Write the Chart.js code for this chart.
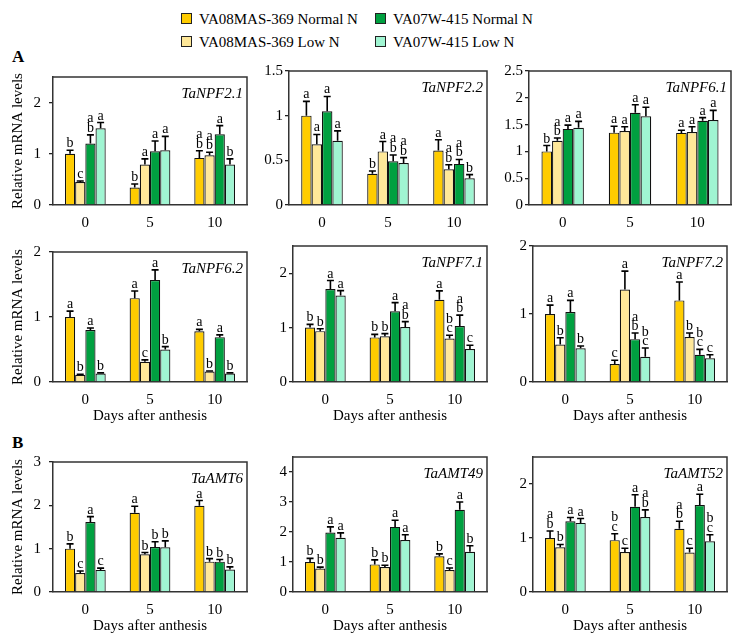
<!DOCTYPE html>
<html><head><meta charset="utf-8">
<script src="https://cdn.jsdelivr.net/npm/chart.js@4.4.1/dist/chart.umd.min.js"></script>
<style>
html,body{margin:0;padding:0;background:#fff;}
#wrap{position:relative;width:739px;height:640px;overflow:hidden;background:#fff;font-family:'Liberation Serif','Times New Roman',serif;color:#000}
#wrap canvas{position:absolute;}
.lg{position:absolute;font-size:15px;line-height:18px;white-space:nowrap}
.sw{position:absolute;width:9px;height:9px;border:1.5px solid #222}
.pl{position:absolute;font-weight:bold;font-size:17px;line-height:18px}
</style></head>
<body><div id="wrap"></div>
<script>
// ---------- data ----------
const days = ['0', '5', '10'];
const seriesNames = ['VA08MAS-369 Normal N', 'VA08MAS-369 Low N', 'VA07W-415 Normal N', 'VA07W-415 Low N'];
const seriesColors = ['#FFCC00', '#FFE899', '#00A040', '#A0F5D2'];
const genes = ['TaNPF2.1', 'TaNPF2.2', 'TaNPF6.1', 'TaNPF6.2', 'TaNPF7.1', 'TaNPF7.2', 'TaAMT6', 'TaAMT49', 'TaAMT52'];
const yMax  = [2.5, 1.5, 2.5, 2, 2.5, 2, 3, 4.5, 2.5];
const yStep = [1, 0.5, 0.5, 1, 1, 1, 1, 1, 1];

// rows = series (in seriesNames order), columns = days
const TaNPF2_1_mean = [[1.00, 0.34, 0.92], [0.45, 0.79, 0.97], [1.20, 1.05, 1.38], [1.50, 1.07, 0.79]];
const TaNPF2_1_err  = [[0.07, 0.07, 0.14], [0.02, 0.11, 0.06], [0.17, 0.20, 0.17], [0.11, 0.27, 0.11]];
const TaNPF2_1_sig  = [['b', 'b', 'ab'], ['c', 'a', 'ab'], ['ab', 'a', 'a'], ['a', 'a', 'b']];

const TaNPF2_2_mean = [[1.00, 0.35, 0.61], [0.68, 0.60, 0.40], [1.05, 0.49, 0.46], [0.72, 0.47, 0.30]];
const TaNPF2_2_err  = [[0.16, 0.03, 0.12], [0.11, 0.11, 0.05], [0.165, 0.07, 0.05], [0.11, 0.06, 0.04]];
const TaNPF2_2_sig  = [['a', 'b', 'a'], ['a', 'a', 'ab'], ['a', 'ab', 'ab'], ['a', 'ab', 'b']];

const TaNPF6_1_mean = [[1.00, 1.35, 1.345], [1.20, 1.38, 1.36], [1.42, 1.72, 1.57], [1.44, 1.655, 1.585]];
const TaNPF6_1_err  = [[0.11, 0.12, 0.05], [0.05, 0.08, 0.10], [0.07, 0.15, 0.06], [0.12, 0.17, 0.18]];
const TaNPF6_1_sig  = [['b', 'a', 'a'], ['ab', 'a', 'a'], ['a', 'a', 'a'], ['a', 'a', 'a']];

const TaNPF6_2_mean = [[1.00, 1.29, 0.78], [0.11, 0.31, 0.16], [0.80, 1.57, 0.69], [0.13, 0.50, 0.13]];
const TaNPF6_2_err  = [[0.09, 0.11, 0.03], [0.01, 0.03, 0.01], [0.03, 0.155, 0.035], [0.01, 0.045, 0.01]];
const TaNPF6_2_sig  = [['a', 'a', 'a'], ['b', 'c', 'b'], ['a', 'a', 'a'], ['b', 'b', 'b']];

const TaNPF7_1_mean = [[1.00, 0.82, 1.51], [0.935, 0.84, 0.80], [1.71, 1.30, 1.03], [1.59, 1.01, 0.605]];
const TaNPF7_1_err  = [[0.06, 0.055, 0.165], [0.045, 0.05, 0.06], [0.155, 0.16, 0.20], [0.09, 0.10, 0.07]];
const TaNPF7_1_sig  = [['b', 'b', 'a'], ['b', 'b', 'bc'], ['a', 'a', 'ab'], ['a', 'ab', 'c']];

const TaNPF7_2_mean = [[1.00, 0.265, 1.20], [0.55, 1.36, 0.66], [1.03, 0.63, 0.40], [0.495, 0.37, 0.35]];
const TaNPF7_2_err  = [[0.13, 0.055, 0.27], [0.10, 0.27, 0.06], [0.17, 0.09, 0.08], [0.035, 0.13, 0.05]];
const TaNPF7_2_sig  = [['a', 'c', 'a'], ['b', 'a', 'b'], ['a', 'ab', 'bc'], ['b', 'bc', 'c']];

const TaAMT6_mean = [[1.00, 1.83, 1.99], [0.44, 0.87, 0.70], [1.615, 1.04, 0.70], [0.51, 1.03, 0.52]];
const TaAMT6_err  = [[0.11, 0.15, 0.12], [0.045, 0.04, 0.07], [0.125, 0.12, 0.05], [0.04, 0.15, 0.06]];
const TaAMT6_sig  = [['b', 'a', 'a'], ['c', 'b', 'b'], ['a', 'b', 'b'], ['c', 'b', 'b']];

const TaAMT49_mean = [[1.00, 0.92, 1.19], [0.78, 0.83, 0.73], [1.98, 2.17, 2.74], [1.81, 1.73, 1.34]];
const TaAMT49_err  = [[0.12, 0.15, 0.08], [0.05, 0.06, 0.07], [0.19, 0.22, 0.26], [0.16, 0.18, 0.20]];
const TaAMT49_sig  = [['b', 'b', 'b'], ['b', 'b', 'c'], ['a', 'a', 'a'], ['a', 'a', 'b']];

const TaAMT52_mean = [[1.00, 0.96, 1.17], [0.83, 0.74, 0.73], [1.31, 1.58, 1.61], [1.28, 1.39, 0.94]];
const TaAMT52_err  = [[0.13, 0.12, 0.14], [0.05, 0.07, 0.08], [0.07, 0.22, 0.20], [0.08, 0.13, 0.12]];
const TaAMT52_sig  = [['ab', 'bc', 'ab'], ['b', 'c', 'c'], ['a', 'a', 'a'], ['a', 'ab', 'bc']];

const allMeans = [TaNPF2_1_mean, TaNPF2_2_mean, TaNPF6_1_mean, TaNPF6_2_mean, TaNPF7_1_mean, TaNPF7_2_mean, TaAMT6_mean, TaAMT49_mean, TaAMT52_mean];
const allErrs  = [TaNPF2_1_err, TaNPF2_2_err, TaNPF6_1_err, TaNPF6_2_err, TaNPF7_1_err, TaNPF7_2_err, TaAMT6_err, TaAMT49_err, TaAMT52_err];
const allSigs  = [TaNPF2_1_sig, TaNPF2_2_sig, TaNPF6_1_sig, TaNPF6_2_sig, TaNPF7_1_sig, TaNPF7_2_sig, TaAMT6_sig, TaAMT49_sig, TaAMT52_sig];

// ---------- layout ----------
const FONT = "'Liberation Serif', 'Times New Roman', serif";
Chart.defaults.font.family = FONT;
Chart.defaults.font.size = 15;
Chart.defaults.color = '#000';

const colCfg = [
  {x: 0,   w: 250},
  {x: 250, w: 240},
  {x: 490, w: 249}
];
const rowCfg = [
  {y: 60,  h: 175, padT: 10, xH: 30, xTitle: false, titlePB: 0},
  {y: 235, h: 190, padT: 10, xH: 43, xTitle: true,  titlePB: 0},
  {y: 445, h: 195, padT: 12, xH: 48, xTitle: true,  titlePB: 5}
];
// [row][col] : y-axis width, right padding
const axisW = [[53, 39, 39], [53, 43, 43], [53, 43, 43]];
const padR  = [[3, 3, 8], [3, 3, 12], [3, 3, 12]];

const wrap = document.getElementById('wrap');

// legend
const legendPos = [
  {sx: 181, ty: 10}, {sx: 181, ty: 33}, {sx: 375, ty: 10}, {sx: 375, ty: 33}
];
seriesNames.forEach((name, i) => {
  const p = legendPos[i];
  const sw = document.createElement('div');
  sw.className = 'sw';
  sw.style.left = p.sx + 'px';
  sw.style.top = (p.ty + 3) + 'px';
  sw.style.background = seriesColors[i];
  wrap.appendChild(sw);
  const t = document.createElement('div');
  t.className = 'lg';
  t.style.left = (p.sx + 18) + 'px';
  t.style.top = p.ty + 'px';
  t.textContent = name;
  wrap.appendChild(t);
});
[['A', 12, 48], ['B', 12, 434]].forEach(([s, x, y]) => {
  const d = document.createElement('div');
  d.className = 'pl';
  d.style.left = x + 'px';
  d.style.top = y + 'px';
  d.textContent = s;
  wrap.appendChild(d);
});

// plugin: error bars, significance letters, frame, gene name
const extras = {
  id: 'extras',
  afterDatasetsDraw(chart) {
    const ctx = chart.ctx;
    const ys = chart.scales.y;
    const o = chart.options.plugins.extras;
    ctx.save();
    chart.data.datasets.forEach((ds, di) => {
      const meta = chart.getDatasetMeta(di);
      meta.data.forEach((bar, i) => {
        const v = ds.data[i];
        const e = o.err[di][i];
        const yTop = ys.getPixelForValue(v + e);
        const yBar = ys.getPixelForValue(v);
        ctx.strokeStyle = '#000';
        ctx.lineWidth = 1.6;
        ctx.beginPath();
        ctx.moveTo(bar.x, yBar);
        ctx.lineTo(bar.x, yTop);
        ctx.moveTo(bar.x - 3.5, yTop);
        ctx.lineTo(bar.x + 3.5, yTop);
        ctx.stroke();
        const letters = o.sig[di][i].split('');
        ctx.fillStyle = '#000';
        ctx.font = '14px ' + FONT;
        ctx.textAlign = 'center';
        ctx.textBaseline = 'alphabetic';
        for (let k = letters.length - 1, n = 0; k >= 0; k--, n++) {
          ctx.fillText(letters[k], bar.x, yTop - 3 - n * 9.5);
        }
      });
    });
    ctx.restore();
  },
  afterDraw(chart) {
    const ctx = chart.ctx;
    const a = chart.chartArea;
    const o = chart.options.plugins.extras;
    ctx.save();
    ctx.strokeStyle = '#333';
    ctx.lineWidth = 1.5;
    ctx.beginPath();
    ctx.moveTo(a.left, a.top);
    ctx.lineTo(a.right, a.top);
    ctx.lineTo(a.right, a.bottom);
    ctx.stroke();
    ctx.fillStyle = '#000';
    ctx.font = 'italic 15px ' + FONT;
    ctx.textAlign = 'right';
    ctx.textBaseline = 'middle';
    ctx.fillText(o.gene, a.right - 4, a.top + 17);
    ctx.restore();
  }
};

genes.forEach((gene, g) => {
  const r = Math.floor(g / 3), c = g % 3;
  const col = colCfg[c], row = rowCfg[r];
  const cv = document.createElement('canvas');
  cv.width = col.w; cv.height = row.h;
  cv.style.left = col.x + 'px'; cv.style.top = row.y + 'px';
  cv.style.width = col.w + 'px'; cv.style.height = row.h + 'px';
  wrap.appendChild(cv);
  const step = yStep[g];
  new Chart(cv, {
    type: 'bar',
    data: {
      labels: days,
      datasets: seriesNames.map((nm, s) => ({
        label: nm,
        data: allMeans[g][s],
        backgroundColor: seriesColors[s],
        borderColor: '#111',
        borderWidth: 1.2,
        categoryPercentage: 0.63,
        barPercentage: 1.0
      }))
    },
    plugins: [extras],
    options: {
      responsive: false,
      animation: false,
      devicePixelRatio: 1,
      layout: {padding: {left: 0, right: padR[r][c], top: row.padT, bottom: 0}},
      plugins: {
        legend: {display: false},
        tooltip: {enabled: false},
        extras: {gene: gene, err: allErrs[g], sig: allSigs[g]}
      },
      scales: {
        x: {
          grid: {display: false, drawTicks: false},
          border: {display: true, color: '#333', width: 1.5},
          ticks: {padding: 9, font: {size: 15}},
          title: {display: row.xTitle, text: 'Days after anthesis', font: {size: 15}, padding: {top: 0, bottom: row.titlePB}},
          afterFit: s => { s.height = row.xH; }
        },
        y: {
          min: 0, max: yMax[g],
          grid: {display: true, drawOnChartArea: false, drawTicks: true, tickLength: 4, color: '#222', lineWidth: 1.3},
          border: {display: true, color: '#333', width: 1.5},
          ticks: {
            stepSize: step, includeBounds: false, padding: c === 0 ? 8 : 2, font: {size: 15},
            callback: v => String(+(+v).toFixed(2))
          },
          afterBuildTicks: s => { s.ticks = s.ticks.filter(t => Math.abs(t.value / step - Math.round(t.value / step)) < 1e-6); },
          title: {display: c === 0, text: 'Relative mRNA levels', font: {size: 15}, padding: {top: 9, bottom: 0}},
          afterFit: s => { s.width = axisW[r][c]; }
        }
      }
    }
  });
});
</script>
</body></html>
